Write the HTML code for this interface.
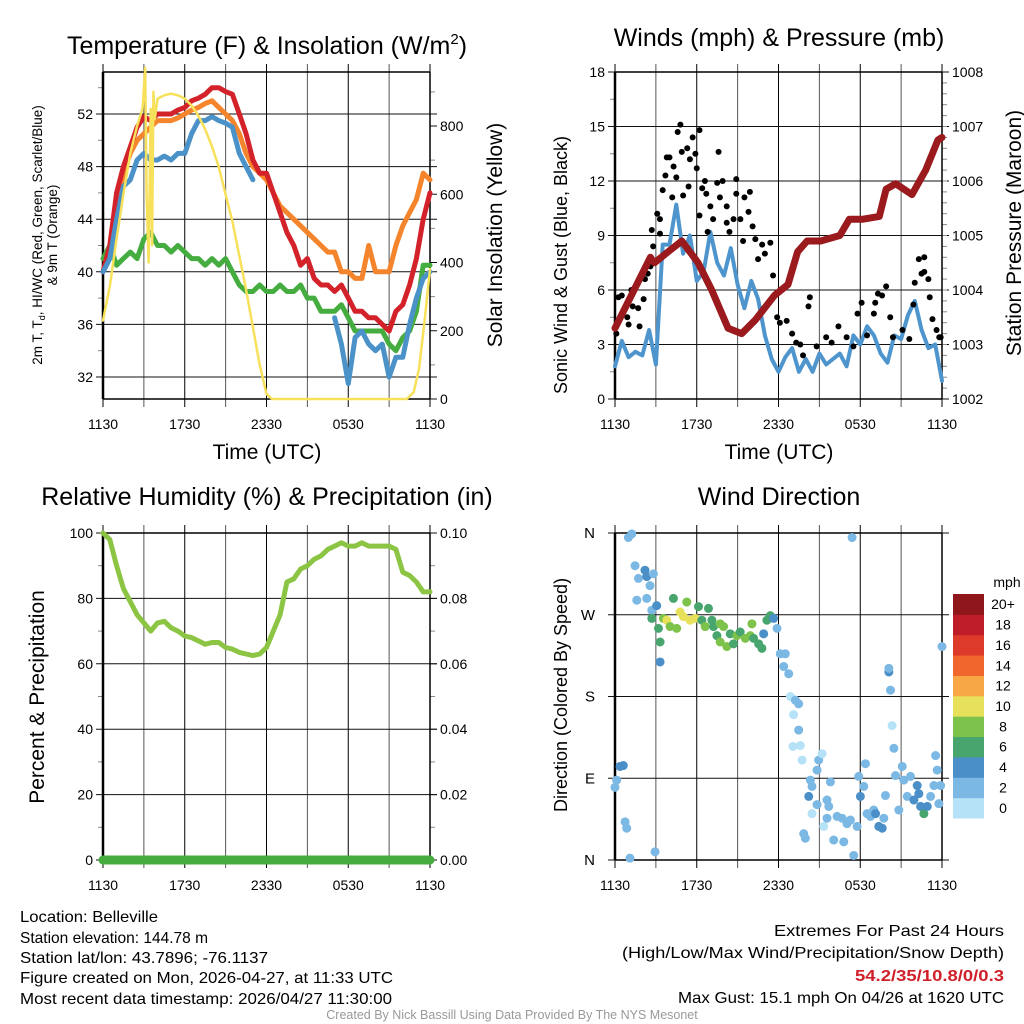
<!DOCTYPE html>
<html><head><meta charset="utf-8"><style>
html,body{margin:0;padding:0;background:#fff;}
svg{display:block;font-family:"Liberation Sans",sans-serif;}
</style></head><body>
<svg id="fig" width="1024" height="1024" viewBox="0 0 1024 1024" xmlns="http://www.w3.org/2000/svg">
<g id="g1"></g>
<g id="g2"></g>
<g id="g3"></g>
<g id="g4"></g>
<g font-size="25" text-anchor="middle">
<text x="267" y="54">Temperature (F) &amp; Insolation (W/m<tspan font-size="15" dy="-10">2</tspan><tspan dy="10">)</tspan></text>
<text x="779" y="46">Winds (mph) &amp; Pressure (mb)</text>
<text x="267" y="505">Relative Humidity (%) &amp; Precipitation (in)</text>
<text x="779" y="505">Wind Direction</text>
</g>
<g font-size="21" text-anchor="middle">
<text x="267" y="459">Time (UTC)</text>
<text x="779" y="459">Time (UTC)</text>
<text font-size="13.5" transform="translate(42,235) rotate(-90)">2m T, T<tspan font-size="9" dy="3">d</tspan><tspan dy="-3">, HI/WC (Red, Green, Scarlet/Blue)</tspan></text>
<text font-size="13.5" transform="translate(57,235) rotate(-90)">&amp; 9m T (Orange)</text>
<text transform="translate(502,235) rotate(-90)">Solar Insolation (Yellow)</text>
<text font-size="18" transform="translate(567,265) rotate(-90)">Sonic Wind &amp; Gust (Blue, Black)</text>
<text transform="translate(1021,233) rotate(-90)">Station Pressure (Maroon)</text>
<text transform="translate(44,697) rotate(-90)">Percent &amp; Precipitation</text>
<text font-size="18" transform="translate(567,695) rotate(-90)">Direction (Colored By Speed)</text>
</g>
<g font-size="16" lengthAdjust="spacingAndGlyphs">
<text x="20" y="922" textLength="138" lengthAdjust="spacingAndGlyphs">Location: Belleville</text>
<text x="20" y="943" textLength="188" lengthAdjust="spacingAndGlyphs">Station elevation: 144.78 m</text>
<text x="20" y="963" textLength="248" lengthAdjust="spacingAndGlyphs">Station lat/lon: 43.7896; -76.1137</text>
<text x="20" y="983" textLength="373" lengthAdjust="spacingAndGlyphs">Figure created on Mon, 2026-04-27, at 11:33 UTC</text>
<text x="20" y="1004" textLength="372" lengthAdjust="spacingAndGlyphs">Most recent data timestamp: 2026/04/27 11:30:00</text>
</g>
<g font-size="16">
<text x="774" y="936" textLength="230" lengthAdjust="spacingAndGlyphs">Extremes For Past 24 Hours</text>
<text x="622" y="958" textLength="382" lengthAdjust="spacingAndGlyphs">(High/Low/Max Wind/Precipitation/Snow Depth)</text>
<text x="855" y="981" textLength="149" lengthAdjust="spacingAndGlyphs" fill="#d0202a" font-weight="bold">54.2/35/10.8/0/0.3</text>
<text x="678" y="1003" textLength="326" lengthAdjust="spacingAndGlyphs">Max Gust: 15.1 mph On 04/26 at 1620 UTC</text>
</g>
<text x="512" y="1019" font-size="12.5" fill="#999" text-anchor="middle">Created By Nick Bassill Using Data Provided By The NYS Mesonet</text>
</svg>
<script>
// ---- data ----
const halfHours = [0,0.5,1,1.5,2,2.5,3,3.5,4,4.5,5,5.5,6,6.5,7,7.5,8,8.5,9,9.5,10,10.5,11,11.5,12,12.5,13,13.5,14,14.5,15,15.5,16,16.5,17,17.5,18,18.5,19,19.5,20,20.5,21,21.5,22,22.5,23,23.5,24];
const tempRed = [40,42,46,48,49.5,51,51.8,51.5,52,52,52,52.3,52.5,53,53.2,53.5,54,54,53.7,53.5,52,50.5,48.5,47.5,47.5,46,44.5,43,42,40.5,41,39.5,39,39,38.5,39,38,37,37,36.5,36.5,36,35.5,37,37.5,39,41,44,46];
const tempOrange = [40,41.5,45,47.5,49,50,50.5,51,51.5,51.5,51.5,51.7,52,52.3,52.5,52.8,53,52.5,52,51.5,50.5,49,48,47.5,47,46,45,44.5,44,43.5,43,42.5,42,41.5,41.5,40,40,39.5,39.5,42,40,40,40,42,43.5,44.5,45.5,47.5,47];
const tempBlue = [40,41,44,46.5,47,48.5,49,48.5,48.5,48.8,48.5,49,49,50.5,51.5,51.5,51.8,51.5,51.3,51,49,48,47,null,null,null,null,null,null,null,null,null,null,null,36.5,34.5,31.5,35,35.5,34.5,34,34.5,32,33.5,33.5,36,38,39.5,40];
const tempGreen = [41,42,40.5,41,41.5,41,42.5,43,42,42,41.5,42,41.5,41,41,40.5,41,40.5,41,40,39,38.5,38.5,39,38.5,38.5,39,38.5,38.5,39,38,38,37,37,37,37.5,36.5,35.5,35.5,35.5,35.5,35.5,34.5,34,35,35.5,37,40.5,40.5];
const solarHours = [0,0.5,1,1.5,2,2.5,2.9,3.1,3.2,3.35,3.5,3.6,3.7,3.8,4,4.5,5,5.5,6,6.5,7,7.5,8,8.5,9,9.5,10,10.5,11,11.5,12,12.4,22.3,22.8,23.2,23.6,24];
const solarValues = [230,330,470,600,720,800,850,970,600,400,850,450,900,820,880,890,895,890,880,860,830,790,740,680,600,520,420,320,210,100,15,0,0,20,90,230,380];
const rhValues = [100,98,90,83,79,75,72.5,70,72.5,73,71,70,68.5,68,67,66,66.5,66.5,65,64.5,63.5,63,62.5,63,65,70,75,85,86,89,90,92,93,95,96,97,96,96,97,96,96,96,96,95,88,87,85,82,82];
const windSpeed = [1.8,3.2,2.3,2.6,2.4,3.8,1.9,8.5,8.5,10.7,8,9,6.5,7,9.2,7.5,6.8,8.3,6.3,5,6.5,5.5,3.5,2.2,1.5,2.3,2.8,1.5,2.2,1.5,2.5,1.9,2.2,2.5,1.8,3.5,3,4,3.5,2.5,2,3.5,3.3,4.6,5.4,3.8,2.8,3,1];
const pressureHours = [0,2.6,2.9,3.9,4.9,6.1,7.1,8.3,9.3,10.3,11.7,12.7,13.4,14.1,15.1,16.5,17.2,18.2,19.4,19.9,20.6,21.8,22.8,23.7,24];
const pressureValues = [1003.3,1004.6,1004.5,1004.7,1004.9,1004.5,1004.0,1003.3,1003.2,1003.45,1003.9,1004.1,1004.7,1004.9,1004.9,1005.0,1005.3,1005.3,1005.35,1005.85,1005.95,1005.75,1006.2,1006.75,1006.8];
const gustHours = [0.1,0.25,0.5,0.4,0.9,1,1.2,1.3,1.7,1.8,2.1,2.2,2.4,2.6,2.7,2.8,3.1,3.3,3.3,3.5,3.7,3.8,4,4.3,4.2,4.5,4.6,4.8,4.9,5,5.3,5.4,5.5,5.7,5.9,6,6.2,6.2,6.4,6.6,6.7,6.8,7,7.2,7.5,7.6,7.7,7.9,8.2,8.2,8.4,8.7,8.9,8.9,9.2,9.4,9.5,9.8,9.9,10.1,10.3,10.5,10.8,11,11.4,11.6,11.9,12.1,12.6,13,13.3,13.6,14.2,14.3,13.8,14.8,15.5,15.9,16.4,17,17.5,17.8,18.1,18.5,19,19.1,19.3,19.6,19.9,20.2,20.4,21.1,21.6,21.9,22,22.3,22.5,22.7,22.7,23,23.1,23.3,23.6,23.8,23.9];
const gustValues = [3.6,5.6,5.7,4.5,4.5,4.1,6,5.1,5,4,5.5,6.6,6.9,7.3,9.3,8.4,10.2,9.9,9.1,11.5,12.3,13.3,13.3,12.8,11.1,12.2,14.7,15.1,13.6,11.2,13.8,11.7,13.2,14.4,13.5,12.7,14.8,10.1,11.6,12,11.3,9.2,10.6,9.9,11.9,13.6,11.1,12,10.6,9.7,9.2,9.9,12.1,11.3,9.9,8.7,11.1,10.3,11.4,9.5,8.8,7.7,8.5,8,8.6,6.8,4.5,4.2,4.3,3.6,3.1,3,5.1,5.6,2.4,2.9,3.4,3.1,4,3.4,2.9,4.7,5.3,3.5,4.7,5.3,5.8,5.7,6.2,4.5,3.4,3.8,3.3,5.2,6.4,7.7,6.9,7.8,7,6.6,5.6,4.4,3.8,3.4,3.4];
const dirHours = [0.12,0.37,0.61,0,0.74,0.86,1.1,0.98,1.23,1.47,1.72,2.2,2.33,1.6,2.33,2.57,2.82,2.7,2.7,3.06,2.94,3.19,3.31,3.31,3.55,3.8,4.04,4.29,4.53,4.78,5.02,5.27,5.51,5.88,6.13,6.37,6.62,6.86,7.11,7.23,7.48,7.72,7.97,7.72,8.21,8.46,8.7,8.95,9.19,9.56,9.93,10.05,10.17,10.54,10.78,10.91,11.15,11.4,11.64,11.89,12.13,12.5,12.38,12.75,12.87,13.24,13.48,13.11,13.48,13.6,13.06,13.73,14.95,15.2,14.83,14.34,14.46,14.22,14.46,14.83,15.56,15.69,13.85,13.97,15.32,15.56,15.81,16.05,16.3,16.67,17.03,17.28,17.77,16.79,17.4,17.52,17.89,18.01,18.26,18.38,18.5,18.75,18.99,19.12,19.36,19.61,19.73,19.85,20.1,20.1,20.22,20.34,20.47,20.59,20.83,21.08,21.2,21.45,21.69,21.94,22.18,22.3,22.43,22.67,22.92,23.16,23.41,23.53,23.65,23.77,23.9,24];
const dirDegrees = [88,103,104,80,42,35,2,355,359,324,310,319,312,286,288,302,315,275,266,280,9,255,240,218,266,264,257,288,255,273,268,284,264,266,279,264,257,277,264,257,247,260,257,240,235,249,238,247,251,244,247,260,244,238,233,249,264,269,266,255,227,227,213,205,180,176,172,160,143,126,125,110,110,117,99,88,81,70,51,61,66,59,29,24,37,46,86,22,48,46,40,44,37,20,355,5,92,70,81,106,51,48,55,51,37,35,46,71,207,211,187,148,123,93,55,103,88,70,92,66,82,73,59,51,59,70,82,115,99,62,82,235];
const dirSpeeds = [3,4,4,2,2,2,2,2,2,2,2,4,4,2,2,2,2,2,6,4,2,6,6,4,8,10,8,6,8,10,10,8,10,10,6,6,8,6,6,6,6,8,8,8,8,6,6,8,6,8,8,8,6,6,6,4,6,6,4,2,2,2,2,2,0,2,2,0,2,0,0,0,2,0,2,2,2,4,0,2,2,2,2,2,0,2,2,2,2,2,2,2,2,2,2,2,2,4,2,2,2,2,2,4,4,4,2,2,4,2,2,0,2,2,2,2,2,2,2,4,4,4,4,6,4,2,2,2,2,2,2,2];
const xTickLabels = ["1130","1730","2330","0530","1130"];
const tempTicks = [32,36,40,44,48,52];
const solarTicks = [0,200,400,600,800];
const windTicks = [0,3,6,9,12,15,18];
const pressureTicks = [1002,1003,1004,1005,1006,1007,1008];
const rhTicks = [0,20,40,60,80,100];
const precipTicks = ["0.00","0.02","0.04","0.06","0.08","0.10"];
const dirTickLabels = ["N","E","S","W","N"];
const speedBins = ["0","2","4","6","8","10","12","14","16","18","20+"];
const speedColors = ["#b6e2f8","#7cb8e4","#4a8fc7","#47a56d","#7dc24b","#e6e05a","#f7a845","#f0662c","#de3a2b","#bd1c28","#8f171b"];

const NS="http://www.w3.org/2000/svg";
function mk(parent,tag,attrs){const e=document.createElementNS(NS,tag);for(const k in attrs)e.setAttribute(k,attrs[k]);parent.appendChild(e);return e;}
function lin(d0,d1,r0,r1){return v=>r0+(v-d0)/(d1-d0)*(r1-r0);}
const L=[103,615],R=[430,942];
function frame(g,x0,x1,y0,y1,yTickVals,yScale,labels,rTickVals,rScale,rLabels,minorL,minorR){
  for(let i=0;i<=8;i++){const x=x0+(x1-x0)*i/8;
    const l=mk(g,'line',{x1:x,x2:x,y1:y0-8,y2:y1+8,stroke:i%2? '#555':'#000','stroke-width':1});
    }
  for(let i=0;i<5;i++){const t=mk(g,'text',{x:x0+(x1-x0)*i/4,y:y1+30,'font-size':14,'text-anchor':'middle'});t.textContent=xTickLabels[i];
    }
  yTickVals.forEach((v,i)=>{const y=yScale(v);
    const l=mk(g,'line',{x1:x0-7,x2:x1+7,y1:y,y2:y,stroke:'#111','stroke-width':1});
    
    const t=mk(g,'text',{x:x0-10,y:y+5,'font-size':14,'text-anchor':'end'});t.textContent=labels[i];
    });
  rTickVals.forEach((v,i)=>{const y=rScale(v);
    mk(g,'line',{x1:x1,x2:x1+7,y1:y,y2:y,stroke:'#111'});
    const t=mk(g,'text',{x:x1+10,y:y+5,'font-size':14});t.textContent=rLabels[i];
    });
  (minorR||[]).forEach(y=>mk(g,'line',{x1:x1,x2:x1+5,y1:y,y2:y,stroke:'#888'}));
  (minorL||[]).forEach(y=>mk(g,'line',{x1:x0-5,x2:x0,y1:y,y2:y,stroke:'#888'}));
  mk(g,'line',{x1:x0,x2:x0,y1:y0,y2:y1,stroke:'#000','stroke-width':2.5});
  mk(g,'line',{x1:x1,x2:x1,y1:y0,y2:y1,stroke:'#000','stroke-width':1.5});
  mk(g,'line',{x1:x0,x2:x1,y1:y0,y2:y0,stroke:'#000','stroke-width':1.5});
  mk(g,'line',{x1:x0,x2:x1,y1:y1,y2:y1,stroke:'#000','stroke-width':1.5});
}
function path(g,xs,ys,xS,yS,color,w,name){
  let d='',pen=false;
  for(let i=0;i<xs.length;i++){ if(ys[i]==null){pen=false;continue;}
    d+=(pen?'L':'M')+xS(xs[i]).toFixed(1)+','+yS(ys[i]).toFixed(1);pen=true;}
  const p=mk(g,'path',{d:d,fill:'none',stroke:color,'stroke-width':w,'stroke-linejoin':'round','stroke-linecap':'round'});
  
  
  return p;
}
{const g=document.getElementById('g1');const y0=72,y1=399;
 const xS=lin(0,24,L[0],R[0]);const yS=lin(52,32,114,377);const sS=lin(0,800,399,126);
 const minorR=[];for(let v=100;v<=900;v+=200)minorR.push(sS(v));
 const minorL=[];for(let v=30;v<=54;v+=4)minorL.push(yS(v));
 frame(g,L[0],R[0],y0,y1,tempTicks,yS,tempTicks.map(String),solarTicks,sS,solarTicks.map(String),minorL.filter(y=>y>y0&&y<y1),minorR);
 path(g,halfHours,tempGreen,xS,yS,'#45ad3f',5,'dewpoint-line');
 path(g,halfHours,tempOrange,xS,yS,'#f5852c',5,'temp-9m-line');
 path(g,halfHours,tempRed,xS,yS,'#d3222a',5,'temp-2m-line');
 path(g,halfHours,tempBlue,xS,yS,'#4b92c9',5,'windchill-line');
 path(g,solarHours,solarValues,xS,sS,'#f7e15a',2.5,'solar-line');
}
{const g=document.getElementById('g2');const y0=72,y1=399;
 const xS=lin(0,24,L[1],R[1]);const yS=lin(0,18,399,72);const pS=lin(1002,1008,399,72);
 const minorR=[];for(let v=1002.2;v<1008;v+=0.2)minorR.push(pS(v));
 const minorL=[];for(let v=1.5;v<18;v+=3)minorL.push(yS(v));
 frame(g,L[1],R[1],y0,y1,windTicks,yS,windTicks.map(String),pressureTicks,pS,pressureTicks.map(String),minorL,minorR);
 path(g,halfHours,windSpeed,xS,yS,'#4e95cd',4,'sonic-wind-line');
 gustHours.forEach((h,i)=>{const c=mk(g,'circle',{cx:xS(h),cy:yS(gustValues[i]),r:3,fill:'#000'});
   });
 path(g,pressureHours,pressureValues,xS,pS,'#9a1a1d',7,'pressure-line');
}
{const g=document.getElementById('g3');const y0=533,y1=860;
 const xS=lin(0,24,L[0],R[0]);const yS=lin(0,100,860,533);
 const minorL=[],minorR=[];for(let v=10;v<100;v+=20){minorL.push(yS(v));minorR.push(yS(v));}
 frame(g,L[0],R[0],y0,y1,rhTicks,yS,rhTicks.map(String),rhTicks,yS,precipTicks,minorL,minorR);
 path(g,halfHours,rhValues,xS,yS,'#8cc544',5,'rh-line');
 const p=mk(g,'line',{x1:L[0],x2:R[0],y1:yS(0),y2:yS(0),stroke:'#45ad3f','stroke-width':9,'stroke-linecap':'round'});
 
}
{const g=document.getElementById('g4');const y0=533,y1=860;
 const xS=lin(0,24,L[1],R[1]);const yS=lin(0,360,860,533);
 const dv=[0,90,180,270,360];
 frame(g,L[1],R[1],y0,y1,dv,yS,dirTickLabels,[],yS,[],[],[]);
 g.querySelectorAll('text').forEach(t=>{if(t.getAttribute('text-anchor')==='end'){t.setAttribute('font-size','15');t.setAttribute('x',L[1]-20);}});
 dirHours.forEach((h,i)=>{if(dirDegrees[i]==null||dirSpeeds[i]==null)return;
   const bin=Math.min(10,Math.floor(dirSpeeds[i]/2));
   const c=mk(g,'circle',{cx:xS(h),cy:yS(dirDegrees[i]),r:4.5,fill:speedColors[bin]});
   });
 const cb=mk(g,'g',{});
 const top=594,bot=818,h=(bot-top)/11;
 speedBins.forEach((lab,i)=>{const y=bot-(i+1)*h;
   const r=mk(cb,'rect',{x:953,y:y,width:31,height:h+0.5,fill:speedColors[i]});
   
   const t=mk(cb,'text',{x:1003,y:y+h/2+5,'font-size':14,'text-anchor':'middle'});t.textContent=lab;
   });
 const m=mk(cb,'text',{x:1007,y:587,'font-size':14,'text-anchor':'middle'});m.textContent='mph';
 
}
</script>
</body></html>
